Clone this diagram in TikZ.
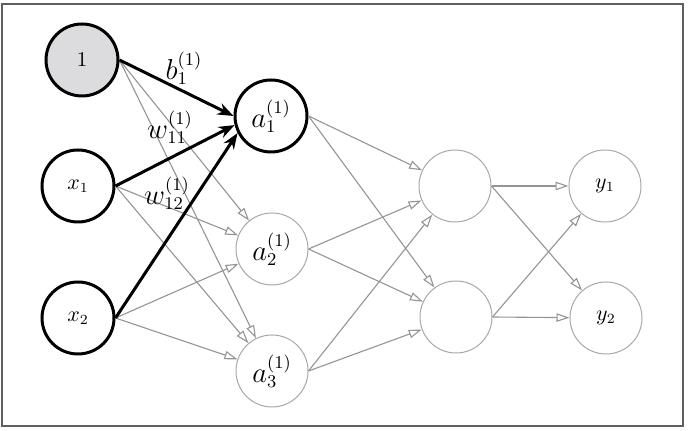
\documentclass[tikz,border=0pt]{standalone}
\usetikzlibrary{arrows.meta}
\definecolor{edgegray}{HTML}{949494}
\definecolor{nodegray}{HTML}{A8A8A8}
\definecolor{biasfill}{HTML}{DCDCDE}
\definecolor{framegray}{HTML}{606060}
\begin{document}
\begin{tikzpicture}[x=0.5pt,y=-0.5pt,
  inneuron/.style={circle,draw=black,line width=1.5pt,minimum size=36pt,inner sep=0pt,font=\fontsize{10.5}{12}\selectfont},
  hidneuron/.style={circle,draw=nodegray,line width=0.5pt,minimum size=36pt,inner sep=0pt,font=\fontsize{13.5}{15}\selectfont},
  outneuron/.style={circle,draw=nodegray,line width=0.5pt,minimum size=36pt,inner sep=0pt,font=\fontsize{10.5}{12}\selectfont},
  strong/.style={draw=black,line width=1.5pt,-{Stealth[length=8pt,width=6pt]}},
  weak/.style={draw=edgegray,line width=0.55pt,-{Triangle[open,length=6.5pt,width=4.2pt]}},
  wlabel/.style={font=\fontsize{13.5}{15}\selectfont,inner sep=0pt}
]
\useasboundingbox (0,0) rectangle (690,431);
\draw[framegray,line width=1pt] (1.5,4.5) rectangle (683,426);

\node[inneuron,fill=biasfill] (one) at (82,60) {1};
\node[inneuron] (x1) at (78,186) {$x_{1}$};
\node[inneuron] (x2) at (78,318) {$x_{2}$};

\node[hidneuron,draw=black,line width=1.5pt] (a1) at (271,116) {$a_1^{(1)}$};
\node[hidneuron] (a2) at (272,249) {$a_2^{(1)}$};
\node[hidneuron] (a3) at (272,371) {$a_3^{(1)}$};

\node[hidneuron] (h1) at (455,186) {};
\node[hidneuron] (h2) at (456,317) {};

\node[outneuron] (y1) at (605,186) {$y_{1}$};
\node[outneuron] (y2) at (606,318) {$y_{2}$};

\draw[weak] (one.east) -- (a2);
\draw[weak] (one.east) -- (a3);
\draw[weak] (x1.east) -- (a2);
\draw[weak] (x1.east) -- (a3);
\draw[weak] (x2.east) -- (a2);
\draw[weak] (x2.east) -- (a3);

\draw[strong] (one.east) -- (a1.180);
\draw[strong] (x1.east) -- (a1.194);
\draw[strong] (x2.east) -- (a1.207);

\foreach \s in {a1,a2,a3}{
  \draw[weak] (\s.east) -- (h1);
  \draw[weak] (\s.east) -- (h2);
}
\foreach \s in {h1,h2}{
  \draw[weak] (\s.east) -- (y1);
  \draw[weak] (\s.east) -- (y2);
}

\node[wlabel] (lb) at (184,68) {$b_1^{(1)}$};
\node[wlabel] (lw11) at (170,127) {$w_{11}^{(1)}$};
\node[wlabel] (lw12) at (167,193) {$w_{12}^{(1)}$};
\end{tikzpicture}
\end{document}
